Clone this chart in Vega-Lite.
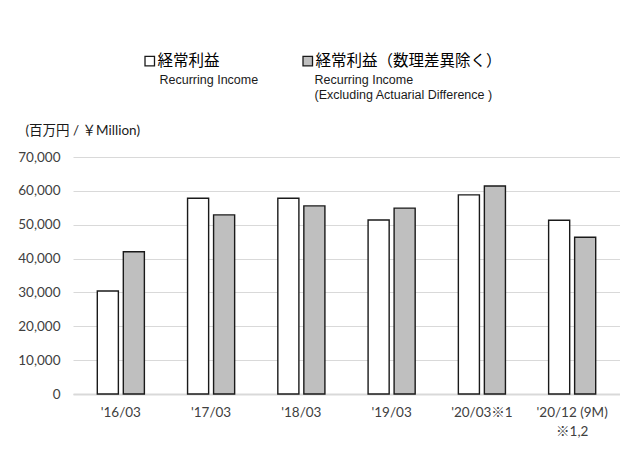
{
  "$schema": "https://vega.github.io/schema/vega-lite/v6.json",
  "width": 547,
  "height": 237,
  "autosize": {"type": "none"},
  "padding": {"left": 73, "top": 157, "right": 0, "bottom": 63},
  "background": "white",
  "config": {"view": {"stroke": null}, "font": "Lato", "style": {"guide-label": {"lineHeight": 15}}},
  "data": {
    "values": [
      {"period": "'16/03", "series_ja": "経常利益", "series_en": "Recurring Income", "value": 30400},
      {"period": "'16/03", "series_ja": "経常利益（数理差異除く）", "series_en": "Recurring Income\n(Excluding Actuarial Difference )", "value": 42000},
      {"period": "'17/03", "series_ja": "経常利益", "series_en": "Recurring Income", "value": 57800},
      {"period": "'17/03", "series_ja": "経常利益（数理差異除く）", "series_en": "Recurring Income\n(Excluding Actuarial Difference )", "value": 52900},
      {"period": "'18/03", "series_ja": "経常利益", "series_en": "Recurring Income", "value": 57800},
      {"period": "'18/03", "series_ja": "経常利益（数理差異除く）", "series_en": "Recurring Income\n(Excluding Actuarial Difference )", "value": 55550},
      {"period": "'19/03", "series_ja": "経常利益", "series_en": "Recurring Income", "value": 51400},
      {"period": "'19/03", "series_ja": "経常利益（数理差異除く）", "series_en": "Recurring Income\n(Excluding Actuarial Difference )", "value": 54900},
      {"period": "'20/03※1", "series_ja": "経常利益", "series_en": "Recurring Income", "value": 58800},
      {"period": "'20/03※1", "series_ja": "経常利益（数理差異除く）", "series_en": "Recurring Income\n(Excluding Actuarial Difference )", "value": 61450},
      {"period": "'20/12 (9M)\n※1,2", "series_ja": "経常利益", "series_en": "Recurring Income", "value": 51300},
      {"period": "'20/12 (9M)\n※1,2", "series_ja": "経常利益（数理差異除く）", "series_en": "Recurring Income\n(Excluding Actuarial Difference )", "value": 46300}
    ]
  },
  "mark": {"type": "bar", "stroke": "#1a1a1a", "strokeWidth": 1.4},
  "encoding": {
    "x": {
      "field": "period",
      "type": "nominal",
      "sort": null,
      "scale": {"paddingInner": 0, "paddingOuter": 0.03},
      "axis": {
        "title": null,
        "labelAngle": 0,
        "labelExpr": "split(datum.label, '\\n')",
        "labelFont": "Lato, Noto Sans CJK JP",
        "labelFontSize": 13.5,
        "labelColor": "#404040",
        "labelPadding": 11,
        "labelLineHeight": 19,
        "labelOverlap": false,
        "ticks": false,
        "domainColor": "#d9d9d9",
        "domainWidth": 2
      }
    },
    "xOffset": {
      "field": "series_ja",
      "type": "nominal",
      "sort": ["経常利益", "経常利益（数理差異除く）"],
      "scale": {"paddingInner": 0.19, "paddingOuter": 0.83}
    },
    "y": {
      "field": "value",
      "type": "quantitative",
      "scale": {"domain": [0, 70000]},
      "axis": {
        "values": [0, 10000, 20000, 30000, 40000, 50000, 60000, 70000],
        "format": ",d",
        "labelFont": "Lato",
        "labelFontSize": 13.5,
        "labelColor": "#404040",
        "labelPadding": 13,
        "domain": false,
        "ticks": false,
        "grid": true,
        "gridColor": "#d9d9d9",
        "gridWidth": 1.2,
        "title": "(百万円 / ￥Million)",
        "titleAngle": 0,
        "titleAlign": "left",
        "titleBaseline": "middle",
        "titleX": -48,
        "titleY": -27,
        "titleFont": "Lato, Noto Sans CJK JP",
        "titleFontSize": 13.5,
        "titleFontWeight": "normal",
        "titleColor": "#1a1a1a"
      }
    },
    "color": {
      "field": "series_ja",
      "type": "nominal",
      "scale": {"domain": ["経常利益", "経常利益（数理差異除く）"], "range": ["#ffffff", "#bfbfbf"]},
      "legend": {
        "title": null,
        "orient": "none",
        "direction": "horizontal",
        "legendX": 69,
        "legendY": -104,
        "symbolType": "square",
        "symbolSize": 90,
        "symbolStrokeColor": "#1a1a1a",
        "symbolStrokeWidth": 1.3,
        "labelFont": "Noto Sans CJK JP",
        "labelFontSize": 15.5,
        "labelColor": "#000000",
        "labelOffset": 0,
        "labelLimit": 400,
        "columnPadding": 80
      }
    },
    "opacity": {
      "field": "series_en",
      "type": "nominal",
      "scale": {"domain": ["Recurring Income", "Recurring Income\n(Excluding Actuarial Difference )"], "range": [1, 1]},
      "legend": {
        "title": null,
        "orient": "none",
        "direction": "horizontal",
        "legendX": 74,
        "legendY": -89,
        "symbolSize": 0,
        "symbolOpacity": 0,
        "symbolStrokeWidth": 0,
        "labelExpr": "indexof(datum.label, '\\n') < 0 ? [datum.label, ' '] : split(datum.label, '\\n')",
        "labelFont": "Liberation Sans",
        "labelFontSize": 12.5,
        "labelColor": "#1a1a1a",
        "labelBaseline": "top",
        "labelOffset": 0,
        "labelLimit": 400,
        "columnPadding": 43
      }
    }
  }
}
